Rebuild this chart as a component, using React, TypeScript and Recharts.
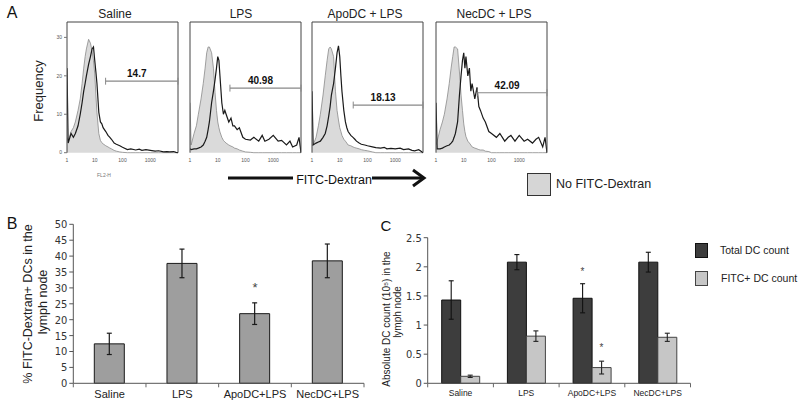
import React from "react";
import {
  ComposedChart,
  Area,
  Line,
  Bar,
  ErrorBar,
  Scatter,
  XAxis,
  YAxis,
  ReferenceLine,
  Legend,
} from "recharts";

const SANS = "'Liberation Sans', Arial, sans-serif";
const NARROW = "'Liberation Sans Narrow', 'DejaVu Sans Condensed', sans-serif";

// --- panel A: histogram channels (FITC intensity, log axis) ---
const HIST_X = [
  1, 1.1, 1.4, 1.7, 2, 2.5, 3, 3.5, 4, 4.5, 5, 6, 7, 8, 9, 10, 11, 12, 14, 16, 18, 20, 25, 30, 35, 40,
  50, 60, 80, 100, 150, 200, 300, 400, 500, 700, 1000, 1500, 2000, 3000, 4000, 5000, 7000, 8500, 10000,
];

const SALINE_CTRL = [
  4, 3, 5.5, 6.5, 8, 11, 14, 18, 22, 25, 27, 29.5, 28.5, 26.5, 24, 20.5, 15, 10.5, 5, 3.2, 2.6, 2.3, 1.8,
  1.5, 1.2, 1, 0.6, 0.4, 0.2, 0.1, 0, 0, 0, 0, 0, 0, 0, 0, 0, 0, 0, 0, 0, 0, 0,
];
const SALINE_FITC = [
  22, 2.5, 5, 4, 5, 7, 10, 13, 16, 18, 20, 23, 25, 27, 27.5, 24, 21, 18, 10.5, 8, 7.5, 6.5, 5.5, 4.5, 4,
  3.5, 2.5, 2.2, 1.8, 1.4, 0.8, 1, 0.7, 0.9, 0.6, 0.8, 0.6, 0.4, 0.5, 0.2, 0.3, 0.2, 0.3, 0.1, 0,
];
const LPS_CTRL = [
  13, 2, 5, 7, 10, 14, 18, 22, 26, 27.5, 27.5, 26, 22, 15.6, 11, 8, 6.5, 5.4, 4, 3.2, 2.8, 2.5, 2, 1.7,
  1.5, 1.2, 1, 0.7, 0.4, 0.2, 0.1, 0, 0, 0, 0, 0, 0, 0, 0, 0, 0, 0, 0, 0, 0,
];
const LPS_FITC = [
  1, 0.8, 1, 1, 1.2, 1.5, 2, 3, 4, 6, 8, 13, 16, 19, 22, 25, 24, 20, 13, 10, 11, 10, 8, 9, 7, 7, 6, 6.5,
  4, 3.5, 3.3, 4, 3, 4.5, 3, 3.5, 4.5, 3, 3.2, 2, 3, 1.5, 2, 4, 0,
];
const APO_CTRL = [
  2, 2, 4, 7, 10, 15, 20, 24, 27, 27.5, 27, 25, 16, 11, 8.5, 6.5, 5.5, 4.5, 3.5, 3, 2.5, 2, 1.8, 1.5,
  1.3, 1.2, 1, 0.8, 0.6, 0.5, 0.2, 0, 0, 0, 0, 0, 0, 0, 0, 0, 0, 0, 0, 0, 0,
];
const APO_FITC = [
  16, 2, 2.5, 2.8, 3, 4, 5, 7, 9.5, 12, 15, 18, 22, 26, 27.8, 25, 20, 16, 11, 8, 6.5, 5.5, 4.5, 4, 3.5,
  3, 2.5, 2.2, 2, 1.8, 1.5, 1.3, 1.2, 1.4, 1, 1.1, 1, 1.2, 0.8, 1, 0.6, 0.5, 0.8, 0.4, 0,
];
const NEC_CTRL = [
  2, 3, 6, 8, 10, 14, 18, 22, 25, 27.5, 27.5, 27, 21, 15, 11, 7.5, 5.5, 4.2, 3, 2.5, 2, 1.5, 1.2, 1, 0.8,
  0.7, 0.7, 0.4, 0.3, 0, 0, 0, 0, 0, 0, 0, 0, 0, 0, 0, 0, 0, 0, 0, 0,
];
const NEC_FITC = [
  13, 1, 1, 1.2, 1.5, 1.8, 2, 2.5, 3, 4, 5, 8, 15, 20, 24, 26, 22, 25, 20, 22, 16, 18, 14, 17, 12, 11,
  9, 8, 5.5, 5, 4, 5, 3, 4, 4.5, 3, 4.5, 3, 3.5, 2.5, 3.5, 4, 1.5, 4, 0,
];

// --- panels B and C ---
const GROUPS = ["Saline", "LPS", "ApoDC+LPS", "NecDC+LPS"];
const PCT_FITC = [12.4, 37.7, 21.9, 38.5];
const PCT_FITC_ERR = [3.35, 4.5, 3.4, 5.3];
const PCT_STAR = [null, null, 31, null];

const TOTAL_DC = [1.43, 2.08, 1.46, 2.08];
const TOTAL_DC_ERR = [0.33, 0.13, 0.25, 0.17];
const FITC_DC = [0.12, 0.81, 0.27, 0.79];
const FITC_DC_ERR = [0.02, 0.09, 0.11, 0.07];
const TOTAL_STAR = [null, null, 1.96, null];
const FITC_STAR = [null, null, 0.65, null];

type HistProps = {
  plotLeft: number;
  ctrl: number[];
  fitc: number[];
  gateFrom: number;
  gateY: number;
  gateText: string;
  yMode: "labels" | "ticks" | "none";
};

function Histogram({ plotLeft, ctrl, fitc, gateFrom, gateY, gateText, yMode }: HistProps) {
  const rows = HIST_X.map((x, i) => ({ x, ctrl: ctrl[i], fitc: fitc[i] }));
  const yTicks = yMode === "labels" ? [0, 10, 20, 30] : [0, 5, 10, 15, 20, 25, 30];
  return (
    <div style={{ position: "absolute", left: plotLeft - 30, top: 0 }}>
      <ComposedChart
        width={145}
        height={175}
        data={rows}
        margin={{ top: 22, right: 4, left: 0, bottom: 2.3 }}
      >
        <XAxis
          dataKey="x"
          type="number"
          scale="log"
          domain={[1, 10000]}
          ticks={[1, 10, 100, 1000]}
          allowDataOverflow
          height={20}
          axisLine={false}
          tickLine={false}
          tickSize={4}
          tickMargin={2}
          tick={{ fontSize: 5, fill: "#555", fontFamily: SANS }}
        />
        <YAxis
          type="number"
          domain={[0, 34]}
          ticks={yTicks}
          interval={0}
          width={30}
          axisLine={{ stroke: "#444" }}
          tickLine={yMode === "none" ? false : { stroke: "#777" }}
          tickSize={3}
          tickMargin={2}
          tick={yMode === "labels" ? { fontSize: 5, fill: "#555", fontFamily: SANS } : false}
        />
        <Area
          dataKey="ctrl"
          type="linear"
          fill="#dadada"
          fillOpacity={1}
          stroke="#8a8a8a"
          strokeWidth={0.8}
          dot={false}
          isAnimationActive={false}
        />
        <Line
          dataKey="fitc"
          type="linear"
          stroke="#1a1a1a"
          strokeWidth={1.2}
          dot={false}
          isAnimationActive={false}
        />
        <ReferenceLine y={34} stroke="#444" />
        <ReferenceLine x={10000} stroke="#444" />
        <ReferenceLine
          segment={[
            { x: gateFrom, y: gateY },
            { x: 10000, y: gateY },
          ]}
          stroke="#888"
          strokeWidth={1.2}
          label={{
            value: gateText,
            position: "top",
            offset: 4,
            dx: -5,
            fontSize: 10,
            fontWeight: 700,
            fill: "#111",
            fontFamily: SANS,
          }}
        />
        <ReferenceLine
          segment={[
            { x: gateFrom, y: gateY - 0.9 },
            { x: gateFrom, y: gateY + 0.9 },
          ]}
          stroke="#888"
        />
        <ReferenceLine
          segment={[
            { x: 10000, y: gateY - 0.9 },
            { x: 10000, y: gateY + 0.9 },
          ]}
          stroke="#888"
        />
      </ComposedChart>
    </div>
  );
}

const starShape = (key: string, fontSize: number, dx: number) => (p: any) => {
  if (!p || !p.payload || p.payload[key] == null) return <g />;
  return (
    <text
      x={p.cx + dx}
      y={p.cy + fontSize * 0.55}
      textAnchor="middle"
      fontSize={fontSize}
      fill="#444"
      fontFamily={SANS}
    >
      *
    </text>
  );
};

// category label plus Excel-style tick marks on the category boundaries
const bandTick = (fontSize: number, half: number, gap: number) => (p: any) => {
  const axisY = p.y - gap;
  return (
    <g>
      {p.index === 0 && (
        <line x1={p.x - half} y1={axisY} x2={p.x - half} y2={axisY + 4} stroke="#666" />
      )}
      <line x1={p.x + half} y1={axisY} x2={p.x + half} y2={axisY + 4} stroke="#666" />
      <text x={p.x} y={p.y} dy="0.71em" textAnchor="middle" fontSize={fontSize} fill="#222" fontFamily={SANS}>
        {p.payload.value}
      </text>
    </g>
  );
};

function PercentChart() {
  const rows = GROUPS.map((g, i) => ({
    group: g,
    value: PCT_FITC[i],
    err: PCT_FITC_ERR[i],
    star: PCT_STAR[i],
  }));
  return (
    <div style={{ position: "absolute", left: 0, top: 200 }}>
      <ComposedChart
        width={380}
        height={205}
        data={rows}
        margin={{ top: 24.3, right: 16, left: 0, bottom: 1.7 }}
      >
        <XAxis
          dataKey="group"
          height={20}
          interval={0}
          axisLine={{ stroke: "#555" }}
          tickLine={false}
          tickSize={5}
          tickMargin={2}
          tick={bandTick(11, 36.34, 7)}
        />
        <YAxis
          type="number"
          domain={[0, 50]}
          ticks={[0, 5, 10, 15, 20, 25, 30, 35, 40, 45, 50]}
          interval={0}
          width={73.3}
          axisLine={{ stroke: "#555" }}
          tickLine={{ stroke: "#555" }}
          tickSize={4}
          tickMargin={2}
          tick={{ fontSize: 11, fill: "#333", fontFamily: NARROW }}
        />
        <Bar
          dataKey="value"
          fill="#9e9e9e"
          stroke="#1a1a1a"
          strokeWidth={1}
          barSize={30}
          isAnimationActive={false}
        >
          <ErrorBar dataKey="err" width={2.5} stroke="#1a1a1a" strokeWidth={1.2} />
        </Bar>
        <Scatter
          dataKey="star"
          legendType="none"
          shape={starShape("star", 13, 0)}
          isAnimationActive={false}
        />
      </ComposedChart>
    </div>
  );
}

function CountLegend() {
  const items = [
    { label: "Total DC count", fill: "#3d3d3d", stroke: "#111" },
    { label: "FITC+ DC count", fill: "#c6c6c6", stroke: "#444" },
  ];
  return (
    <div>
      {items.map((it, i) => (
        <div
          key={it.label}
          style={{ position: "relative", height: 28, display: "flex", alignItems: "flex-start" }}
        >
          <div
            style={{
              width: 13,
              height: 15,
              boxSizing: "border-box",
              background: it.fill,
              border: `1.2px solid ${it.stroke}`,
            }}
          />
          <span
            style={{
              marginLeft: 12 + i,
              fontSize: 10.5,
              lineHeight: "15px",
              color: "#222",
              fontFamily: SANS,
            }}
          >
            {it.label}
          </span>
        </div>
      ))}
    </div>
  );
}

function CountChart() {
  const rows = GROUPS.map((g, i) => ({
    group: g,
    total: TOTAL_DC[i],
    totalErr: TOTAL_DC_ERR[i],
    fitc: FITC_DC[i],
    fitcErr: FITC_DC_ERR[i],
    totalStar: TOTAL_STAR[i],
    fitcStar: FITC_STAR[i],
  }));
  return (
    <div style={{ position: "absolute", left: 380, top: 215 }}>
      <ComposedChart
        width={420}
        height={190}
        data={rows}
        barGap={0}
        margin={{ top: 22.7, right: 109.5, left: 0, bottom: 1.7 }}
      >
        <XAxis
          dataKey="group"
          height={20}
          interval={0}
          axisLine={{ stroke: "#555" }}
          tickLine={false}
          tickSize={5}
          tickMargin={2}
          tick={bandTick(8.5, 32.85, 7)}
        />
        <YAxis
          type="number"
          domain={[0, 2.5]}
          ticks={[0, 0.5, 1, 1.5, 2, 2.5]}
          interval={0}
          width={47.7}
          axisLine={{ stroke: "#555" }}
          tickLine={{ stroke: "#555" }}
          tickSize={4}
          tickMargin={2}
          tick={{ fontSize: 11, fill: "#333", fontFamily: NARROW }}
        />
        <Bar
          dataKey="total"
          name="Total DC count"
          fill="#3d3d3d"
          stroke="#111"
          strokeWidth={1}
          barSize={19}
          isAnimationActive={false}
        >
          <ErrorBar dataKey="totalErr" width={2.5} stroke="#111" strokeWidth={1.1} />
        </Bar>
        <Bar
          dataKey="fitc"
          name="FITC+ DC count"
          fill="#c6c6c6"
          stroke="#444"
          strokeWidth={1}
          barSize={19}
          isAnimationActive={false}
        >
          <ErrorBar dataKey="fitcErr" width={2.5} stroke="#222" strokeWidth={1.1} />
        </Bar>
        <Scatter
          dataKey="totalStar"
          legendType="none"
          shape={starShape("totalStar", 10, -9.5)}
          isAnimationActive={false}
        />
        <Scatter
          dataKey="fitcStar"
          legendType="none"
          shape={starShape("fitcStar", 10, 9.5)}
          isAnimationActive={false}
        />
        <Legend
          layout="vertical"
          align="center"
          verticalAlign="middle"
          content={() => <CountLegend />}
          wrapperStyle={{ left: 315, top: 28, width: 110, height: 60 }}
        />
      </ComposedChart>
    </div>
  );
}

function Overlay() {
  const rot = (x: number, y: number) => `rotate(-90 ${x} ${y})`;
  return (
    <svg
      width={800}
      height={407}
      style={{ position: "absolute", left: 0, top: 0, pointerEvents: "none" }}
      fontFamily={SANS}
    >
      <text x={12} y={18} fontSize={16} textAnchor="middle" fill="#111">A</text>
      <text x={38} y={91} fontSize={13} textAnchor="middle" dominantBaseline="central" transform={rot(38, 91)} fill="#222">
        Frequency
      </text>
      <text x={115} y={17.5} fontSize={12} textAnchor="middle" fill="#222">Saline</text>
      <text x={241} y={17.5} fontSize={12} textAnchor="middle" fill="#222">LPS</text>
      <text x={365} y={17.5} fontSize={12} textAnchor="middle" fill="#222">ApoDC + LPS</text>
      <text x={494} y={17.5} fontSize={12} textAnchor="middle" fill="#222">NecDC + LPS</text>
      <text x={104} y={177} fontSize={5} textAnchor="middle" fill="#777">FL2-H</text>

      <line x1={228} y1={178} x2={293} y2={178} stroke="#111" strokeWidth={3} />
      <text x={334} y={183.5} fontSize={12.5} textAnchor="middle" fill="#111">FITC-Dextran</text>
      <line x1={372} y1={178} x2={423} y2={178} stroke="#111" strokeWidth={3} />
      <polyline points="413,170 424,178 413,186" fill="none" stroke="#111" strokeWidth={3} />

      <text x={12} y={229} fontSize={16} textAnchor="middle" fill="#111">B</text>
      <text x={28} y={304} fontSize={12.5} textAnchor="middle" dominantBaseline="central" transform={rot(28, 304)} fill="#222">
        % FITC-Dextran+ DCs in the
      </text>
      <text x={42.7} y={302} fontSize={12.5} textAnchor="middle" dominantBaseline="central" transform={rot(42.7, 302)} fill="#222">
        lymph node
      </text>

      <text x={386} y={230.5} fontSize={15} textAnchor="middle" fill="#111">C</text>
      <text x={386.7} y={319} fontSize={10} textAnchor="middle" dominantBaseline="central" transform={rot(386.7, 319)} fill="#222">
        Absolute DC count (10⁵) in the
      </text>
      <text x={397.7} y={312} fontSize={10} textAnchor="middle" dominantBaseline="central" transform={rot(397.7, 312)} fill="#222">
        lymph node
      </text>
    </svg>
  );
}

export default function App() {
  return (
    <div
      style={{
        position: "absolute",
        left: 0,
        top: 0,
        width: 800,
        height: 407,
        background: "#fff",
        fontFamily: SANS,
        overflow: "hidden",
      }}
    >
      <Histogram plotLeft={67} ctrl={SALINE_CTRL} fitc={SALINE_FITC} gateFrom={24.6} gateY={18.6} gateText="14.7" yMode="labels" />
      <Histogram plotLeft={190} ctrl={LPS_CTRL} fitc={LPS_FITC} gateFrom={27.5} gateY={16.8} gateText="40.98" yMode="ticks" />
      <Histogram plotLeft={312} ctrl={APO_CTRL} fitc={APO_FITC} gateFrom={30.6} gateY={12.4} gateText="18.13" yMode="ticks" />
      <Histogram plotLeft={436} ctrl={NEC_CTRL} fitc={NEC_FITC} gateFrom={30.6} gateY={15.6} gateText="42.09" yMode="none" />

      <div
        style={{
          position: "absolute",
          left: 527,
          top: 173,
          width: 24,
          height: 23,
          boxSizing: "border-box",
          background: "#d6d6d6",
          border: "1.5px solid #333",
        }}
      />
      <div
        style={{
          position: "absolute",
          left: 556,
          top: 177,
          fontSize: 12.5,
          lineHeight: "14px",
          color: "#222",
          fontFamily: SANS,
        }}
      >
        No FITC-Dextran
      </div>

      <PercentChart />
      <CountChart />
      <Overlay />
    </div>
  );
}
